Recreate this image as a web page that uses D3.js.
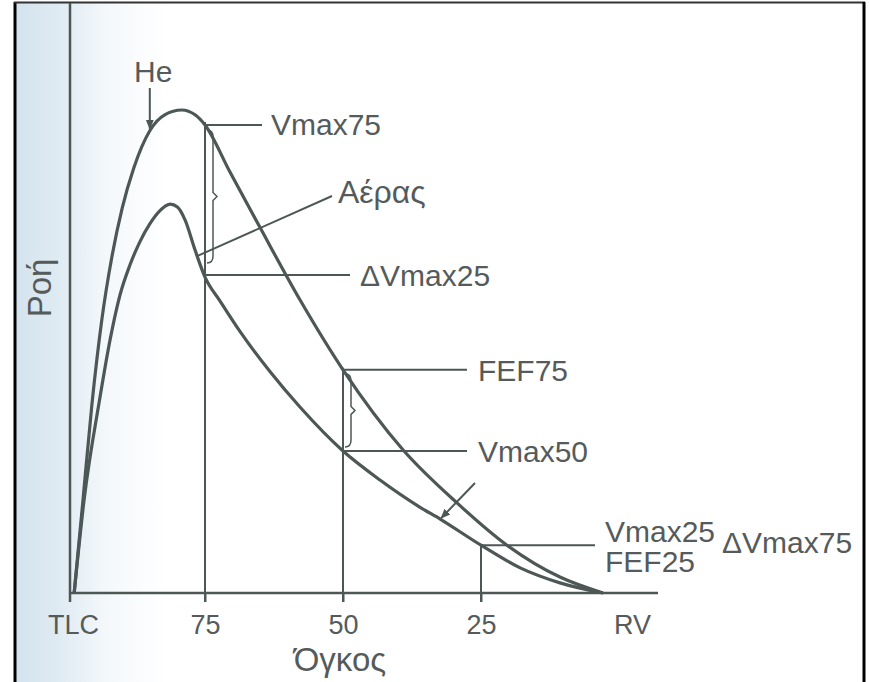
<!DOCTYPE html>
<html>
<head>
<meta charset="utf-8">
<script src="https://cdn.jsdelivr.net/npm/d3@7"></script>
<style>
  body { margin: 0; background: #fff; }
  text { font-family: "Liberation Sans", Arial, Helvetica, sans-serif; fill: #555b5a; }
</style>
</head>
<body>
<div id="chart"></div>
<script>
// volume in % of vital capacity (TLC = 100, RV = 0), flow in % of He peak
var volumeTicks = [100, 75, 50, 25, 0];
var tickLabels = ["TLC", "75", "50", "25", "RV"];

var heVolume = [98.7, 97.1, 95.5, 93.7, 91.9, 90.0, 87.9, 85.0, 82.3, 79.2, 76.8, 75, 70.5, 65.0, 57.8, 50, 39.1, 29.3, 20.3, 10.7, 2.9];
var heFlow   = [0, 19.3, 38.9, 56.5, 69.4, 79.7, 88.0, 95.7, 99.0, 100, 99.0, 96.9, 87.2, 75.6, 60.7, 46.2, 29.6, 18.6, 9.9, 3.3, 0];

var airVolume = [98.7, 96.9, 94.1, 92.2, 90.4, 88.6, 86.8, 85.0, 83.2, 81.3, 80.0, 78.6, 76.8, 75, 72.3, 68.7, 63.2, 57.8, 50, 43.3, 36.1, 32.4, 25, 17.9, 10.7, 2.9];
var airFlow   = [0, 19.3, 40.0, 52.4, 61.7, 67.9, 72.7, 76.4, 79.1, 80.5, 79.9, 77.2, 71.0, 65.4, 60.5, 54.2, 45.8, 38.5, 29.4, 23.4, 17.8, 15.3, 9.9, 5.2, 2.1, 0];

var W = 870, H = 682;
var ink = "#4d5756";

var svg = d3.select("#chart").append("svg")
    .attr("width", W)
    .attr("height", H);

// scanned page tint on the left
var defs = svg.append("defs");
var grad = defs.append("linearGradient").attr("id", "tint").attr("x1", 0).attr("x2", 1).attr("y1", 0).attr("y2", 0);
grad.append("stop").attr("offset", "0%").attr("stop-color", "#d3e3ee");
grad.append("stop").attr("offset", "32%").attr("stop-color", "#e1ecf3");
grad.append("stop").attr("offset", "60%").attr("stop-color", "#f4f8fb");
grad.append("stop").attr("offset", "100%").attr("stop-color", "#ffffff");
svg.append("rect").attr("x", 16).attr("y", 3).attr("width", 150).attr("height", H - 3).attr("fill", "url(#tint)");

defs.append("marker")
    .attr("id", "head")
    .attr("viewBox", "0 0 10 10")
    .attr("refX", 9).attr("refY", 5)
    .attr("markerWidth", 5).attr("markerHeight", 5)
    .attr("orient", "auto")
  .append("path")
    .attr("d", "M0,1 L10,5 L0,9 Z")
    .attr("fill", ink);

// frame
svg.append("line").attr("x1", 15).attr("x2", 15).attr("y1", 2).attr("y2", H).attr("stroke", "#000").attr("stroke-width", 3);
svg.append("line").attr("x1", 14).attr("x2", 865).attr("y1", 2.5).attr("y2", 2.5).attr("stroke", "#333").attr("stroke-width", 2);
svg.append("line").attr("x1", 864).attr("x2", 864).attr("y1", 2).attr("y2", H).attr("stroke", "#000").attr("stroke-width", 3);

var x = d3.scaleLinear().domain([100, 0]).range([67, 619]);
var y = d3.scaleLinear().domain([0, 100]).range([593, 110]);

// axes
svg.append("line").attr("x1", 70).attr("x2", 70).attr("y1", 3).attr("y2", y(0) + 9)
    .attr("stroke", ink).attr("stroke-width", 2.5);
svg.append("line").attr("x1", 70).attr("x2", 658).attr("y1", y(0)).attr("y2", y(0))
    .attr("stroke", ink).attr("stroke-width", 2.5);

var xAxis = svg.append("g")
    .attr("transform", "translate(0," + y(0) + ")")
    .call(d3.axisBottom(x).tickValues(volumeTicks)
      .tickFormat(function(d, i) { return tickLabels[i]; })
      .tickSize(9).tickSizeOuter(0));
xAxis.select(".domain").remove();
xAxis.selectAll(".tick line")
    .attr("stroke", ink).attr("stroke-width", 2)
    .filter(function(d) { return d === 100 || d === 0; }).remove();
xAxis.selectAll(".tick text")
    .attr("y", 41).attr("dy", 0)
    .attr("dx", function(d) { return d === 100 ? 6 : d === 0 ? 13 : 0; })
    .attr("font-size", 27)
    .attr("font-family", null)
    .style("fill", "#555b5a");

svg.append("text")
    .attr("x", x(50) - 3).attr("y", 671)
    .attr("text-anchor", "middle")
    .attr("font-size", 33)
    .text("Όγκος");

svg.append("text")
    .attr("transform", "translate(51,288) rotate(-90)")
    .attr("text-anchor", "middle")
    .attr("font-size", 33)
    .text("Ροή");

// flow-volume curves
var line = d3.line()
    .x(function(d) { return x(d[0]); })
    .y(function(d) { return y(d[1]); })
    .curve(d3.curveMonotoneX);

var heData = d3.zip(heVolume, heFlow);
var airData = d3.zip(airVolume, airFlow);

svg.append("path").datum(heData).attr("d", line)
    .attr("fill", "none").attr("stroke", ink).attr("stroke-width", 3.2);
svg.append("path").datum(airData).attr("d", line)
    .attr("fill", "none").attr("stroke", ink).attr("stroke-width", 3.2);

function flowOf(vols, flows, v) { return flows[vols.indexOf(v)]; }

var he75 = y(flowOf(heVolume, heFlow, 75)), air75 = y(flowOf(airVolume, airFlow, 75));
var he50 = y(flowOf(heVolume, heFlow, 50)), air50 = y(flowOf(airVolume, airFlow, 50));
var air25 = y(flowOf(airVolume, airFlow, 25));

var g = svg.append("g").attr("stroke", ink).attr("stroke-width", 2).attr("fill", "none");

function seg(x1, y1, x2, y2) {
  return g.append("line").attr("x1", x1).attr("y1", y1).attr("x2", x2).attr("y2", y2);
}

// verticals at 75 / 50 / 25
seg(x(75), he75 - 3, x(75), y(0) + 9);
seg(x(50), he50 - 2, x(50), y(0) + 9);
seg(x(25), air25, x(25), y(0) + 9);

// leaders
seg(x(75), he75, x(75) + 57, he75);
seg(x(75), air75 - 2, x(75) + 145, air75 - 2);
seg(x(50), he50, x(50) + 124, he50);
seg(x(50), air50, x(50) + 124, air50);
seg(x(25), air25, x(25) + 114, air25);

// braces
function brace(x0, y1, y2) {
  var m = (y1 + y2) / 2, b = x0 + 6;
  return "M" + x0 + "," + y1 + " Q" + b + "," + y1 + " " + b + "," + (y1 + 7) +
         " L" + b + "," + (m - 4) + " L" + (b + 4) + "," + m + " L" + b + "," + (m + 4) +
         " L" + b + "," + (y2 - 7) + " Q" + b + "," + y2 + " " + x0 + "," + y2;
}
g.append("path").attr("d", brace(x(75) + 2, he75 + 5, air75 - 14)).attr("stroke-width", 1.5);
g.append("path").attr("d", brace(x(50) + 2, he50 + 4, air50 - 4)).attr("stroke-width", 1.5);

// air leader to lower curve
var ia = airVolume.indexOf(76.8);
seg(x(airVolume[ia]) + 2, y(airFlow[ia]) + 6, 332, 196);

// arrow to lower curve
var ib = airVolume.indexOf(32.4);
seg(475, 483, x(airVolume[ib]) + 1, y(airFlow[ib]) - 1).attr("marker-end", "url(#head)");

// He arrow
var ih = heVolume.indexOf(85.0);
seg(x(heVolume[ih]), 88, x(heVolume[ih]), y(heFlow[ih]) - 2).attr("marker-end", "url(#head)");

var labels = svg.append("g").attr("font-size", 30);
function label(t, lx, ly, fs) {
  labels.append("text").attr("x", lx).attr("y", ly).attr("font-size", fs || null).text(t);
}

label("He", 134, 82);
label("Vmax75", x(75) + 66, he75 + 10);
label("Αέρας", 338, 203, 32);
label("ΔVmax25", x(75) + 155, air75 + 9);
label("FEF75", x(50) + 135, he50 + 11);
label("Vmax50", x(50) + 135, air50 + 11);
label("Vmax25", x(25) + 124, air25 - 3);
label("FEF25", x(25) + 124, air25 + 27);
label("ΔVmax75", 722, air25 + 8);
</script>
</body>
</html>
